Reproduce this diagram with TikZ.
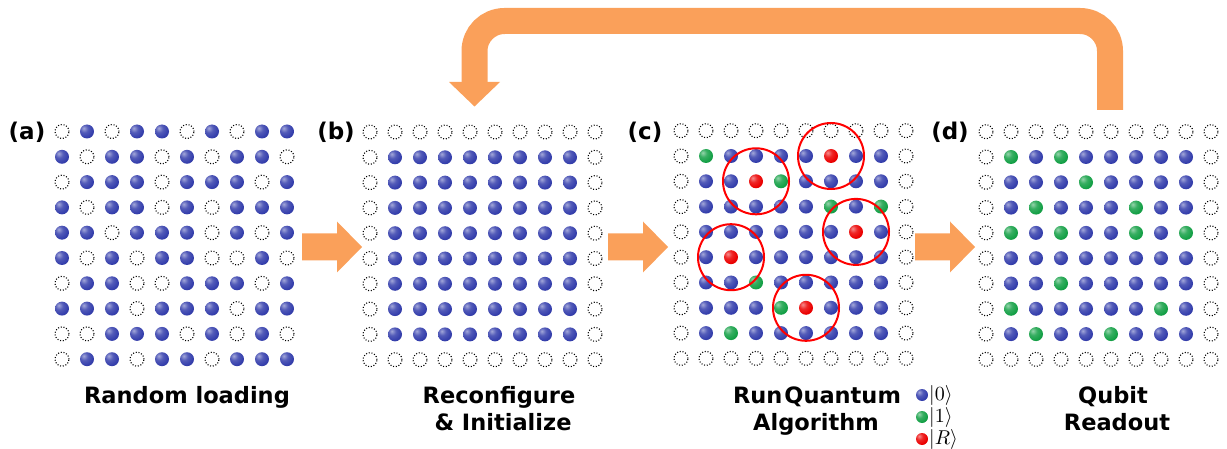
\documentclass[tikz,border=0pt]{standalone}
\usepackage{fontspec}
\setmainfont{DejaVu Sans}
\definecolor{qblue}{RGB}{52,62,172}
\definecolor{qgreen}{RGB}{20,160,70}
\definecolor{qred}{RGB}{235,0,0}
\definecolor{flow}{RGB}{250,160,90}
\pgfdeclareradialshading{blueball}{\pgfpoint{-12bp}{12bp}}{%
  color(0bp)=(qblue!45!white); color(14bp)=(qblue!85!white); color(30bp)=(qblue);
  color(52bp)=(qblue!80!black); color(62bp)=(qblue!60!black); color(100bp)=(qblue!60!black)}
\pgfdeclareradialshading{greenball}{\pgfpoint{-12bp}{12bp}}{%
  color(0bp)=(qgreen!45!white); color(14bp)=(qgreen!85!white); color(30bp)=(qgreen);
  color(52bp)=(qgreen!80!black); color(62bp)=(qgreen!60!black); color(100bp)=(qgreen!60!black)}
\pgfdeclareradialshading{redball}{\pgfpoint{-12bp}{12bp}}{%
  color(0bp)=(qred!45!white); color(14bp)=(qred!85!white); color(30bp)=(qred);
  color(52bp)=(qred!80!black); color(62bp)=(qred!60!black); color(100bp)=(qred!60!black)}
\tikzset{
 atom/.style={circle, inner sep=0pt, minimum size=14pt},
 q0/.style={atom, shading=blueball},
 q1/.style={atom, shading=greenball},
 qR/.style={atom, shading=redball},
 site/.style={circle, inner sep=0pt, minimum size=14pt, draw=black, line width=1.1pt, dash pattern=on 1pt off 1.8pt},
 ring/.style={draw=red, line width=2pt},
 lab/.style={font=\bfseries\fontsize{23}{27}\selectfont, anchor=base, inner sep=0pt},
 panel/.style={font=\bfseries\fontsize{22.5}{27}\selectfont, anchor=base, inner sep=0pt},
 ket/.style={anchor=west, inner sep=0pt},
 flowfill/.style={fill=flow, draw=none},
 flowline/.style={draw=flow, line width=26pt, rounded corners=30pt},
}
\newcommand\atomgrid[4]{%
  \foreach \rowcodes [count=\r] in {#4} {%
    \foreach \v [count=\k] in \rowcodes {%
      \ifcase\v\relax
        \node[site] (#1-\r-\k) at ({#2+(\k-1)*25},{#3+(\r-1)*25.3}) {};
      \or
        \node[q0] (#1-\r-\k) at ({#2+(\k-1)*25},{#3+(\r-1)*25.3}) {};
      \or
        \node[q1] (#1-\r-\k) at ({#2+(\k-1)*25},{#3+(\r-1)*25.3}) {};
      \or
        \node[qR] (#1-\r-\k) at ({#2+(\k-1)*25},{#3+(\r-1)*25.3}) {};
      \fi
    }
  }
}
\newcommand\blockarrow[1]{%
  \fill[flowfill] (#1) ++(0,-13.5) -- ++(35,0) -- ++(0,-12) -- ++(25,25.5) -- ++(-25,25.5) -- ++(0,-12) -- ++(-35,0) -- cycle;
}
\newcommand\ketsym[1]{\scalebox{2}{$|#1\rangle$}}
\begin{document}
\begin{tikzpicture}[x=1pt, y=-1pt]
\useasboundingbox (0,0) rectangle (1227,449);

% grids
\atomgrid{a}{62}{131.5}{
 {0,1,0,1,1,0,1,0,1,1},
 {1,0,1,1,0,1,0,1,1,0},
 {0,1,1,1,0,1,1,1,0,1},
 {1,0,1,1,0,1,0,1,1,1},
 {1,1,0,1,1,1,0,1,0,1},
 {1,0,1,0,1,1,0,0,1,0},
 {0,1,1,0,0,1,1,1,0,1},
 {1,1,1,0,1,1,1,0,1,1},
 {0,0,1,1,1,0,1,0,1,0},
 {0,1,1,0,1,1,0,1,1,1}}
\atomgrid{b}{370}{132}{
 {0,0,0,0,0,0,0,0,0,0},
 {0,1,1,1,1,1,1,1,1,0},
 {0,1,1,1,1,1,1,1,1,0},
 {0,1,1,1,1,1,1,1,1,0},
 {0,1,1,1,1,1,1,1,1,0},
 {0,1,1,1,1,1,1,1,1,0},
 {0,1,1,1,1,1,1,1,1,0},
 {0,1,1,1,1,1,1,1,1,0},
 {0,1,1,1,1,1,1,1,1,0},
 {0,0,0,0,0,0,0,0,0,0}}
\atomgrid{c}{681}{130.7}{
 {0,0,0,0,0,0,0,0,0,0},
 {0,2,1,1,1,1,3,1,1,0},
 {0,1,1,3,2,1,1,1,1,0},
 {0,1,1,1,1,1,2,1,2,0},
 {0,1,1,1,1,1,1,3,1,0},
 {0,1,3,1,1,1,1,1,1,0},
 {0,1,1,2,1,1,1,1,1,0},
 {0,1,1,1,2,3,1,1,1,0},
 {0,1,2,1,1,1,1,1,1,0},
 {0,0,0,0,0,0,0,0,0,0}}
\atomgrid{d}{986}{131.7}{
 {0,0,0,0,0,0,0,0,0,0},
 {0,2,1,2,1,1,1,1,1,0},
 {0,1,1,1,2,1,1,1,1,0},
 {0,1,2,1,1,1,2,1,1,0},
 {0,2,1,2,1,1,2,1,2,0},
 {0,1,1,1,1,1,1,1,1,0},
 {0,1,1,2,1,1,1,1,1,0},
 {0,2,1,1,1,1,1,2,1,0},
 {0,1,2,1,1,2,1,1,1,0},
 {0,0,0,0,0,0,0,0,0,0}}

% rings around Rydberg atoms
\foreach \n in {c-2-7, c-3-4, c-5-8, c-6-3, c-8-6}
  \draw[ring] (\n) circle[radius=33pt];

% panel arrows
\coordinate (arAB) at (302,247);
\coordinate (arBC) at (608,247);
\coordinate (arCD) at (915,247);
\blockarrow{arAB}
\blockarrow{arBC}
\blockarrow{arCD}

% feedback arrow
\coordinate (fbS) at (1110,110);
\coordinate (fbC1) at (1110,21);
\coordinate (fbC2) at (474.5,21);
\coordinate (fbE) at (474.5,83);
\draw[flowline] (fbS) -- (fbC1) -- (fbC2) -- (fbE);
\fill[flowfill] (fbE) ++(-25.5,-1) -- ++(51,0) -- ++(-25.5,24.5) -- cycle;

% panel labels
\node[lab] (la) at (27,140) {(a)};
\node[lab] (lb) at (336,140) {(b)};
\node[lab] (lc) at (645,140) {(c)};
\node[lab] (ld) at (950,140) {(d)};

% captions
\node[panel] (ta) at (187,403) {Random loading};
\node[panel] (tb1) at (499,403) {Reconfigure};
\node[panel] (tb2) at (503,430) {\& Initialize};
\node[panel] (tc1) at (817,403) {\spaceskip=2pt Run Quantum};
\node[panel] (tc2) at (816,430) {Algorithm};
\node[panel] (td1) at (1113,403) {Qubit};
\node[panel] (td2) at (1117,430) {Readout};

% legend
\node[q0, minimum size=12pt] (k0) at (922,395) {};
\node[ket] (k0t) at (929,395) {\ketsym{0}};
\node[q1, minimum size=12pt] (k1) at (922,417) {};
\node[ket] (k1t) at (929,417) {\ketsym{1}};
\node[qR, minimum size=12pt] (kR) at (922,439) {};
\node[ket] (kRt) at (929,439) {\ketsym{R}};
\end{tikzpicture}
\end{document}
